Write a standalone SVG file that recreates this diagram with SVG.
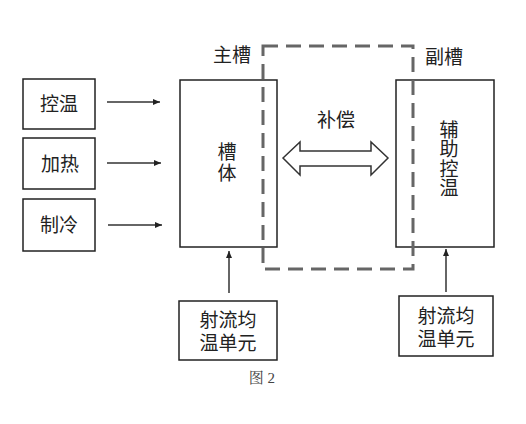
<svg xmlns="http://www.w3.org/2000/svg" width="526" height="424" viewBox="0 0 526 424">
<defs>
<marker id="ah" markerWidth="8" markerHeight="6" refX="7" refY="3" orient="auto" markerUnits="userSpaceOnUse">
<path d="M0,0 L7,3 L0,6 Z" fill="#222"/>
</marker>
<style>
.box{fill:#fff;stroke:#222;stroke-width:1.5}
.t{font-family:"Liberation Sans","Noto Sans CJK SC",sans-serif;font-size:19px;fill:#222;text-anchor:middle;dominant-baseline:central}
.c{stroke:#333;stroke-width:1.5;fill:none;marker-end:url(#ah)}
.cap{font-family:"Liberation Serif","Noto Serif CJK SC","Noto Sans CJK SC",serif;font-size:15px;fill:#444;text-anchor:middle;dominant-baseline:central}
</style>
</defs>
<rect width="526" height="424" fill="#fff"/>
<g id="n-kongwen"><rect class="box" x="23" y="79" width="72" height="50"/><text class="t" x="59" y="104">控温</text></g>
<g id="n-jiare"><rect class="box" x="23" y="138" width="72" height="51"/><text class="t" x="60" y="164">加热</text></g>
<g id="n-zhileng"><rect class="box" x="23" y="199" width="72" height="52"/><text class="t" x="59" y="225">制冷</text></g>
<g id="n-caoti"><rect class="box" x="180" y="80" width="97" height="167"/><text class="t" x="227" y="152">槽</text><text class="t" x="227" y="173">体</text></g>
<g id="n-fuzhu"><rect class="box" x="396" y="80" width="98" height="167"/><text class="t" x="449" y="130">辅</text><text class="t" x="449" y="149.5">助</text><text class="t" x="449" y="169">控</text><text class="t" x="449" y="188.5">温</text></g>
<g id="n-sheliu1"><rect class="box" x="179" y="301" width="98" height="59"/><text class="t" x="228" y="320">射流均</text><text class="t" x="228" y="343">温单元</text></g>
<g id="n-sheliu2"><rect class="box" x="399" y="296" width="94" height="60"/><text class="t" x="446" y="316">射流均</text><text class="t" x="446" y="339">温单元</text></g>
<g id="n-region"><rect x="263" y="46" width="150" height="223" fill="none" stroke="#666" stroke-width="3" stroke-dasharray="15 8"/></g>
<g id="labels">
<text class="t" x="232" y="55">主槽</text>
<text class="t" x="444" y="57">副槽</text>
<text class="t" x="336" y="120">补偿</text>
<text class="cap" x="262" y="378">图 2</text>
</g>
<g id="connectors">
<line class="c" x1="107" y1="102" x2="160" y2="102"/>
<line class="c" x1="107" y1="163" x2="161" y2="163"/>
<line class="c" x1="108" y1="225" x2="162" y2="225"/>
<line class="c" x1="229" y1="293" x2="229" y2="251"/>
<line class="c" x1="446" y1="292" x2="446" y2="249"/>
<path d="M283,158 L300,142 L300,151 L371,151 L371,142 L388,158 L371,175 L371,166 L300,166 L300,175 Z" fill="#fff" stroke="#333" stroke-width="1.5" stroke-linejoin="miter"/>
</g>
</svg>
